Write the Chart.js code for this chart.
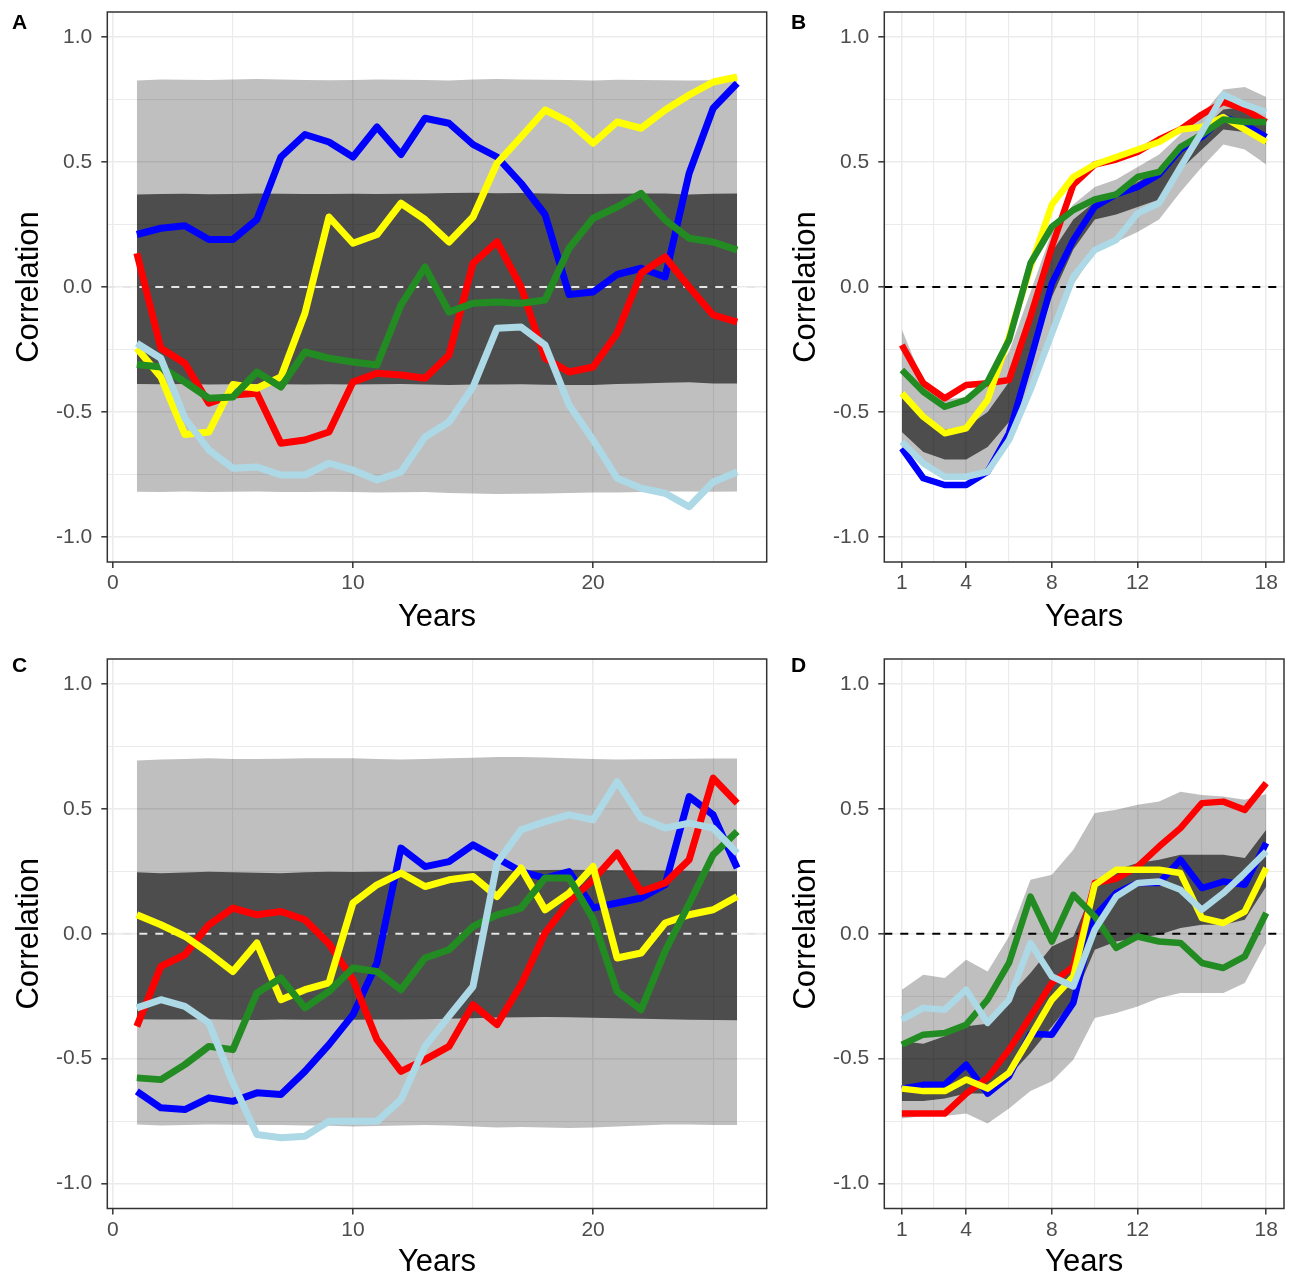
<!DOCTYPE html>
<html><head><meta charset="utf-8">
<script src="https://cdn.jsdelivr.net/npm/chart.js@4/dist/chart.umd.min.js"></script>
<style>
html,body{margin:0;padding:0;background:#fff;}
#wrap{position:relative;width:1297px;height:1277px;overflow:hidden;background:#fff;}
canvas{position:absolute;}
.lab{position:absolute;font:bold 21px "Liberation Sans",Arial,sans-serif;line-height:1;color:#000;}
</style></head><body>
<div id="wrap">
<canvas id="cA" style="left:0;top:0" width="780" height="640"></canvas>
<canvas id="cB" style="left:780px;top:0" width="517" height="640"></canvas>
<canvas id="cC" style="left:0;top:640px" width="780" height="637"></canvas>
<canvas id="cD" style="left:780px;top:640px" width="517" height="637"></canvas>
<div class="lab" style="left:12px;top:11px">A</div>
<div class="lab" style="left:791px;top:11px">B</div>
<div class="lab" style="left:12px;top:654px">C</div>
<div class="lab" style="left:791px;top:654px">D</div>
</div>
<script>
// ---------- categories / ticks ----------
const yearsLong  = [1,2,3,4,5,6,7,8,9,10,11,12,13,14,15,16,17,18,19,20,21,22,23,24,25,26];
const yearsShort = [1,2,3,4,5,6,7,8,9,10,11,12,13,14,15,16,17,18];
const xTicksLong  = [0,5,10,15,20,25];
const xLabelsLong = [0,10,20];
const xTicksShort  = [1,2.5,4,6,8,10,12,15,18];
const xLabelsShort = [1,4,8,12,18];
const yTicks  = [-1,-0.75,-0.5,-0.25,0,0.25,0.5,0.75,1];
const yLabels = [-1,-0.5,0,0.5,1];

// ---------- Panel A ----------
const aBlue   = [0.21,0.235,0.245,0.19,0.19,0.27,0.52,0.61,0.58,0.52,0.64,0.53,0.675,0.655,0.57,0.52,0.415,0.29,-0.03,-0.02,0.05,0.075,0.04,0.455,0.715,0.815];
const aRed    = [0.135,-0.245,-0.305,-0.465,-0.432,-0.425,-0.625,-0.612,-0.58,-0.38,-0.345,-0.352,-0.365,-0.272,0.095,0.181,0.0,-0.285,-0.34,-0.32,-0.185,0.055,0.12,0.0,-0.112,-0.14];
const aYellow = [-0.245,-0.36,-0.59,-0.58,-0.39,-0.405,-0.36,-0.105,0.28,0.175,0.21,0.335,0.27,0.18,0.28,0.495,0.6,0.708,0.66,0.575,0.66,0.635,0.708,0.768,0.82,0.84];
const aGreen  = [-0.31,-0.32,-0.38,-0.445,-0.44,-0.34,-0.4,-0.26,-0.285,-0.3,-0.312,-0.072,0.08,-0.1,-0.065,-0.06,-0.065,-0.052,0.155,0.275,0.32,0.375,0.268,0.195,0.18,0.148];
const aLightBlue = [-0.225,-0.285,-0.525,-0.652,-0.725,-0.72,-0.752,-0.752,-0.705,-0.732,-0.772,-0.74,-0.6,-0.54,-0.4,-0.165,-0.16,-0.232,-0.472,-0.612,-0.765,-0.805,-0.825,-0.879,-0.78,-0.74];
const aOuterHi = [0.826,0.830,0.829,0.828,0.830,0.832,0.830,0.828,0.827,0.828,0.830,0.829,0.828,0.826,0.830,0.832,0.830,0.829,0.828,0.826,0.829,0.828,0.827,0.826,0.827,0.828];
const aOuterLo = [-0.819,-0.82,-0.818,-0.82,-0.819,-0.818,-0.82,-0.82,-0.819,-0.82,-0.822,-0.821,-0.82,-0.824,-0.826,-0.828,-0.827,-0.826,-0.824,-0.822,-0.822,-0.82,-0.818,-0.818,-0.819,-0.818];
const aInnerHi = [0.37,0.372,0.373,0.371,0.372,0.374,0.373,0.372,0.372,0.373,0.372,0.373,0.374,0.376,0.377,0.375,0.376,0.374,0.372,0.372,0.373,0.374,0.374,0.37,0.373,0.374];
const aInnerLo = [-0.388,-0.389,-0.388,-0.39,-0.389,-0.388,-0.389,-0.39,-0.389,-0.39,-0.389,-0.388,-0.39,-0.392,-0.39,-0.39,-0.389,-0.391,-0.392,-0.392,-0.388,-0.386,-0.383,-0.381,-0.386,-0.386];

// ---------- Panel B ----------
const bBlue   = [-0.645,-0.765,-0.792,-0.792,-0.739,-0.585,-0.292,0.015,0.188,0.321,0.37,0.40,0.45,0.55,0.60,0.68,0.65,0.60];
const bRed    = [-0.232,-0.385,-0.445,-0.392,-0.385,-0.372,-0.119,0.161,0.41,0.49,0.51,0.54,0.59,0.63,0.69,0.74,0.71,0.66];
const bYellow = [-0.425,-0.519,-0.585,-0.565,-0.452,-0.199,0.081,0.33,0.44,0.49,0.52,0.55,0.58,0.63,0.64,0.68,0.63,0.58];
const bGreen  = [-0.332,-0.419,-0.479,-0.452,-0.379,-0.212,0.095,0.241,0.308,0.35,0.37,0.44,0.46,0.56,0.61,0.67,0.66,0.66];
const bLightBlue = [-0.619,-0.705,-0.759,-0.759,-0.739,-0.612,-0.412,-0.185,0.041,0.148,0.188,0.295,0.335,0.48,0.62,0.77,0.73,0.70];
const bOuterHi = [-0.17,-0.38,-0.45,-0.44,-0.38,-0.26,-0.02,0.22,0.33,0.40,0.43,0.48,0.53,0.61,0.69,0.79,0.80,0.76];
const bInnerHi = [-0.42,-0.52,-0.57,-0.56,-0.50,-0.38,-0.12,0.14,0.27,0.34,0.37,0.42,0.47,0.56,0.63,0.71,0.72,0.67];
const bInnerLo = [-0.58,-0.66,-0.69,-0.69,-0.64,-0.54,-0.30,-0.04,0.15,0.27,0.29,0.32,0.35,0.47,0.55,0.63,0.62,0.57];
const bOuterLo = [-0.64,-0.72,-0.76,-0.76,-0.73,-0.62,-0.40,-0.17,0.01,0.14,0.18,0.22,0.27,0.38,0.48,0.57,0.55,0.49];

// ---------- Panel C ----------
const cBlue   = [-0.631,-0.697,-0.704,-0.657,-0.671,-0.637,-0.644,-0.551,-0.444,-0.324,-0.117,0.343,0.269,0.289,0.356,0.303,0.249,0.223,0.249,0.103,0.123,0.143,0.196,0.549,0.476,0.263];
const cRed    = [-0.371,-0.131,-0.084,0.036,0.103,0.076,0.089,0.056,-0.04,-0.184,-0.424,-0.551,-0.504,-0.451,-0.284,-0.364,-0.204,0.003,0.129,0.216,0.323,0.169,0.203,0.296,0.623,0.523];
const cYellow = [0.076,0.036,-0.01,-0.077,-0.151,-0.037,-0.264,-0.224,-0.197,0.123,0.196,0.243,0.189,0.216,0.229,0.149,0.263,0.096,0.163,0.269,-0.097,-0.077,0.043,0.076,0.096,0.149];
const cGreen  = [-0.577,-0.584,-0.524,-0.451,-0.464,-0.237,-0.177,-0.297,-0.231,-0.137,-0.151,-0.224,-0.097,-0.064,0.029,0.076,0.103,0.223,0.223,0.06,-0.231,-0.304,-0.07,0.12,0.316,0.409];
const cLightBlue = [-0.297,-0.264,-0.291,-0.357,-0.597,-0.804,-0.817,-0.811,-0.751,-0.751,-0.751,-0.664,-0.451,-0.33,-0.211,0.283,0.416,0.449,0.476,0.456,0.609,0.463,0.423,0.443,0.423,0.323];
const cOuterHi = [0.694,0.698,0.700,0.703,0.700,0.700,0.701,0.703,0.703,0.703,0.700,0.698,0.700,0.703,0.705,0.708,0.708,0.706,0.703,0.700,0.698,0.699,0.700,0.701,0.702,0.702];
const cOuterLo = [-0.764,-0.768,-0.766,-0.764,-0.765,-0.766,-0.766,-0.768,-0.769,-0.772,-0.77,-0.768,-0.766,-0.768,-0.772,-0.776,-0.774,-0.776,-0.778,-0.776,-0.772,-0.768,-0.764,-0.764,-0.766,-0.766];
const cInnerHi = [0.246,0.242,0.245,0.248,0.246,0.244,0.242,0.246,0.248,0.247,0.248,0.248,0.246,0.248,0.25,0.251,0.253,0.255,0.256,0.255,0.254,0.254,0.253,0.252,0.25,0.25];
const cInnerLo = [-0.342,-0.343,-0.343,-0.342,-0.344,-0.345,-0.343,-0.344,-0.344,-0.344,-0.343,-0.343,-0.342,-0.34,-0.338,-0.335,-0.334,-0.333,-0.334,-0.336,-0.338,-0.34,-0.342,-0.344,-0.345,-0.346];

// ---------- Panel D ----------
const dBlue   = [-0.62,-0.605,-0.604,-0.524,-0.64,-0.571,-0.40,-0.404,-0.277,0.069,0.163,0.203,0.203,0.296,0.183,0.209,0.196,0.363];
const dRed    = [-0.72,-0.72,-0.72,-0.64,-0.577,-0.464,-0.331,-0.197,-0.131,0.203,0.22,0.269,0.349,0.423,0.523,0.529,0.496,0.603];
const dYellow = [-0.62,-0.63,-0.63,-0.584,-0.62,-0.557,-0.411,-0.264,-0.171,0.196,0.256,0.256,0.256,0.243,0.063,0.043,0.089,0.263];
const dGreen  = [-0.444,-0.404,-0.397,-0.364,-0.264,-0.117,0.149,-0.031,0.156,0.069,-0.057,-0.011,-0.031,-0.037,-0.117,-0.137,-0.091,0.083];
const dLightBlue = [-0.344,-0.297,-0.304,-0.224,-0.357,-0.264,-0.037,-0.171,-0.211,0.016,0.149,0.203,0.209,0.176,0.096,0.163,0.243,0.329];
const dOuterHi = [-0.224,-0.164,-0.177,-0.104,-0.151,-0.011,0.216,0.236,0.336,0.483,0.496,0.516,0.529,0.569,0.556,0.549,0.536,0.56];
const dInnerHi = [-0.43,-0.44,-0.41,-0.37,-0.36,-0.25,-0.157,-0.051,-0.011,0.19,0.256,0.283,0.296,0.316,0.316,0.316,0.303,0.416];
const dInnerLo = [-0.67,-0.67,-0.66,-0.64,-0.64,-0.57,-0.477,-0.371,-0.264,-0.064,-0.031,-0.017,-0.004,0.023,0.036,0.036,0.056,0.189];
const dOuterLo = [-0.74,-0.73,-0.73,-0.72,-0.76,-0.70,-0.63,-0.591,-0.504,-0.337,-0.317,-0.291,-0.257,-0.237,-0.237,-0.237,-0.197,-0.037];

// ---------- drawing ----------
const FONT = '"Liberation Sans", Arial, sans-serif';
const frame = {id:'frame', afterDraw(chart){
  const {ctx, chartArea:a} = chart;
  ctx.save(); ctx.strokeStyle='#333333'; ctx.lineWidth=1.5;
  ctx.strokeRect(a.left, a.top, a.right-a.left, a.bottom-a.top);
  ctx.restore();
}};
const isIn = (list, v) => list.some(t => Math.abs(t - v) < 1e-9);
const noPad = s => { s.paddingTop = 0; s.paddingBottom = 0; s.paddingLeft = 0; s.paddingRight = 0; };

function panel(id, o){
  const pts = arr => o.years.map((x,i)=>({x:x, y:arr[i]}));
  const band = (arr, fill, bg, order) => ({data:pts(arr), borderColor:'rgba(0,0,0,0)', borderWidth:0, pointRadius:0, fill:fill, backgroundColor:bg, order:order});
  const line = (arr, color, order) => ({data:pts(arr), borderColor:color, borderWidth:o.lw, pointRadius:0, fill:false, order:order, borderJoinStyle:'round', borderCapStyle:'butt', tension:0});
  const datasets = [
    band(o.outerHi, '+1', 'rgba(0,0,0,0.25)', 100),
    band(o.outerLo, false, 'rgba(0,0,0,0)', 101),
    band(o.innerHi, '+1', 'rgba(0,0,0,0.6)', 90),
    band(o.innerLo, false, 'rgba(0,0,0,0)', 91),
    {data:[{x:o.xMin,y:0},{x:o.xMax,y:0}], borderColor:o.refColor, borderWidth:2, borderDash:[8,8], pointRadius:0, fill:false, order:50},
    line(o.blue,   '#0000ff', 6),
    line(o.red,    '#ff0000', 5),
    line(o.yellow, '#ffff00', 4),
    line(o.green,  '#228b22', 3),
    line(o.lightBlue, '#add8e6', 2)
  ];
  const isMajorX = v => isIn(o.xLabels, v);
  const isMajorY = v => isIn(yLabels, v);
  new Chart(document.getElementById(id), {
    type:'line',
    data:{datasets},
    plugins:[frame],
    options:{
      responsive:false, animation:false, devicePixelRatio:1,
      layout:{padding:{left:0, top:o.padTop, right:o.padRight, bottom:0}},
      plugins:{legend:{display:false}, tooltip:{enabled:false}, colors:{enabled:false}, filler:{drawTime:'beforeDatasetsDraw'}},
      scales:{
        x:{type:'linear', min:o.xMin, max:o.xMax,
          afterBuildTicks: s => { s.ticks = o.xTicks.map(v=>({value:v})); },
          afterFit: s => { s.height = o.xAxisH; noPad(s); },
          ticks:{autoSkip:false, maxRotation:0, minRotation:0, color:'#4d4d4d', font:{family:FONT, size:21}, padding:3,
            callback: v => isMajorX(v) ? String(v) : ''},
          grid:{color:'#ebebeb', lineWidth: c => (c.tick && isMajorX(c.tick.value)) ? 1.6 : 1.1,
            tickColor: c => (c.tick && isMajorX(c.tick.value)) ? '#333333' : 'rgba(0,0,0,0)', tickLength:6, tickWidth:1.5},
          border:{display:false},
          title:{display:true, text:'Years', color:'#000', font:{family:FONT, size:31, lineHeight:1}, padding:{top:0, bottom:o.titleBottom}}
        },
        y:{type:'linear', min:-1.1, max:1.1,
          afterBuildTicks: s => { s.ticks = yTicks.map(v=>({value:v})); },
          afterFit: s => { s.width = o.yAxisW; noPad(s); },
          ticks:{autoSkip:false, color:'#4d4d4d', font:{family:FONT, size:21}, padding:9,
            callback: v => isMajorY(v) ? v.toFixed(1) : ''},
          grid:{color:'#ebebeb', lineWidth: c => (c.tick && isMajorY(c.tick.value)) ? 1.6 : 1.1,
            tickColor: c => (c.tick && isMajorY(c.tick.value)) ? '#333333' : 'rgba(0,0,0,0)', tickLength:6, tickWidth:1.5},
          border:{display:false},
          title:{display:true, text:'Correlation', color:'#000', font:{family:FONT, size:31, lineHeight:1}, padding:{top:o.titleLeft, bottom:0}}
        }
      }
    }
  });
}

panel('cA', {years:yearsLong, xMin:-0.23, xMax:27.23, xTicks:xTicksLong, xLabels:xLabelsLong, refColor:'#e6e6e6', lw:7,
  padTop:12, padRight:13.3, yAxisW:107.3, xAxisH:78, titleBottom:7, titleLeft:14,
  blue:aBlue, red:aRed, yellow:aYellow, green:aGreen, lightBlue:aLightBlue,
  outerHi:aOuterHi, outerLo:aOuterLo, innerHi:aInnerHi, innerLo:aInnerLo});
panel('cB', {years:yearsShort, xMin:0.18, xMax:18.83, xTicks:xTicksShort, xLabels:xLabelsShort, refColor:'#000000', lw:6.5,
  padTop:12, padRight:13, yAxisW:104.3, xAxisH:78, titleBottom:7, titleLeft:11,
  blue:bBlue, red:bRed, yellow:bYellow, green:bGreen, lightBlue:bLightBlue,
  outerHi:bOuterHi, outerLo:bOuterLo, innerHi:bInnerHi, innerLo:bInnerLo});
panel('cC', {years:yearsLong, xMin:-0.23, xMax:27.23, xTicks:xTicksLong, xLabels:xLabelsLong, refColor:'#e6e6e6', lw:7,
  padTop:19, padRight:13.3, yAxisW:107.3, xAxisH:68.5, titleBottom:-1, titleLeft:14,
  blue:cBlue, red:cRed, yellow:cYellow, green:cGreen, lightBlue:cLightBlue,
  outerHi:cOuterHi, outerLo:cOuterLo, innerHi:cInnerHi, innerLo:cInnerLo});
panel('cD', {years:yearsShort, xMin:0.18, xMax:18.83, xTicks:xTicksShort, xLabels:xLabelsShort, refColor:'#000000', lw:6.5,
  padTop:19, padRight:13, yAxisW:104.3, xAxisH:68.5, titleBottom:-1, titleLeft:11,
  blue:dBlue, red:dRed, yellow:dYellow, green:dGreen, lightBlue:dLightBlue,
  outerHi:dOuterHi, outerLo:dOuterLo, innerHi:dInnerHi, innerLo:dInnerLo});
</script>
</body></html>
